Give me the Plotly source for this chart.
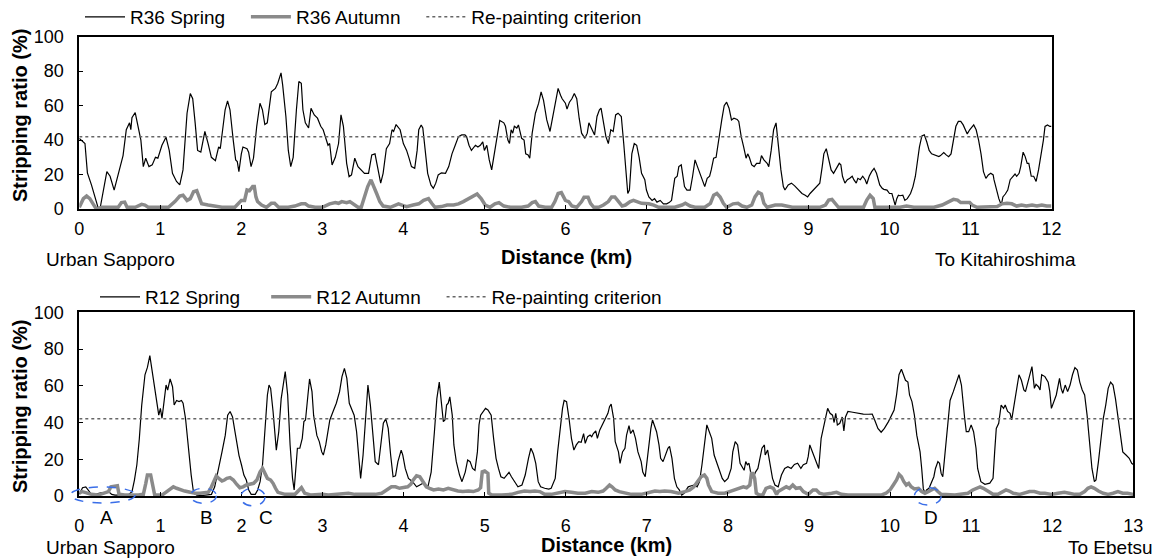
import plotly.graph_objects as go

# ---------------- data ----------------
r36_spring_km = [0.00,0.07,0.10,0.15,0.23,0.255,0.34,0.38,0.43,0.48,0.52,0.54,0.58,0.62,0.636,0.65,0.69,0.73,0.76,0.79,0.82,0.86,0.90,0.94,0.97,1.02,1.07,1.11,1.15,1.20,1.24,1.28,1.33,1.37,1.40,1.43,1.46,1.50,1.55,1.59,1.63,1.68,1.72,1.74,1.78,1.80,1.83,1.86,1.90,1.93,1.95,1.97,2.00,2.02,2.07,2.09,2.12,2.15,2.19,2.23,2.26,2.29,2.32,2.35,2.37,2.42,2.45,2.49,2.51,2.55,2.58,2.61,2.64,2.68,2.71,2.74,2.76,2.79,2.83,2.86,2.90,2.94,2.98,3.01,3.04,3.07,3.09,3.12,3.16,3.20,3.23,3.26,3.30,3.33,3.36,3.40,3.44,3.48,3.52,3.57,3.61,3.65,3.67,3.70,3.72,3.75,3.79,3.83,3.86,3.88,3.91,3.96,4.00,4.02,4.04,4.07,4.10,4.14,4.17,4.19,4.22,4.24,4.27,4.30,4.34,4.37,4.40,4.43,4.47,4.52,4.56,4.60,4.64,4.68,4.72,4.76,4.78,4.81,4.84,4.87,4.89,4.92,4.95,4.98,5.00,5.03,5.06,5.09,5.12,5.15,5.17,5.19,5.24,5.26,5.29,5.31,5.33,5.35,5.37,5.40,5.42,5.44,5.46,5.49,5.51,5.54,5.56,5.59,5.63,5.67,5.70,5.73,5.77,5.81,5.84,5.87,5.91,5.94,5.96,6.00,6.02,6.05,6.08,6.11,6.14,6.17,6.20,6.24,6.27,6.29,6.33,6.36,6.39,6.42,6.44,6.47,6.50,6.53,6.56,6.59,6.62,6.65,6.69,6.72,6.75,6.77,6.79,6.82,6.85,6.88,6.91,6.94,6.98,7.00,7.03,7.07,7.10,7.13,7.17,7.21,7.25,7.28,7.31,7.35,7.38,7.40,7.43,7.45,7.47,7.50,7.54,7.57,7.60,7.63,7.66,7.69,7.72,7.75,7.78,7.80,7.83,7.86,7.89,7.93,7.96,7.99,8.02,8.05,8.08,8.12,8.14,8.17,8.20,8.23,8.25,8.27,8.30,8.33,8.36,8.40,8.42,8.45,8.49,8.51,8.54,8.57,8.60,8.63,8.66,8.69,8.71,8.75,8.79,8.83,8.88,8.92,8.96,8.99,9.02,9.06,9.10,9.14,9.17,9.19,9.22,9.25,9.28,9.31,9.34,9.38,9.40,9.42,9.45,9.48,9.51,9.54,9.56,9.59,9.61,9.64,9.67,9.70,9.72,9.75,9.78,9.81,9.84,9.88,9.91,9.93,9.97,10.00,10.03,10.05,10.07,10.09,10.11,10.13,10.165,10.19,10.22,10.26,10.29,10.32,10.35,10.37,10.40,10.43,10.46,10.49,10.52,10.56,10.61,10.63,10.67,10.70,10.73,10.76,10.79,10.82,10.85,10.88,10.91,10.96,10.99,11.02,11.04,11.07,11.10,11.13,11.16,11.19,11.22,11.25,11.28,11.29,11.32,11.35,11.38,11.40,11.43,11.46,11.49,11.52,11.55,11.57,11.60,11.62,11.65,11.675,11.70,11.72,11.75,11.78,11.81,11.84,11.87,11.90,11.92,11.95,11.98,12.00]
r36_spring = [41,38,21,14,1,0,21.7,19,11,20,26.5,31,46,50,46,53,56,46,40,24.6,29.5,24.6,25.6,30,29.5,37,41.7,34,20.7,16,14,22.7,55.6,67,64,50,34,33,45,38,30,28,36,35,52.7,57.6,62.8,57.6,40,28.5,27.5,21.7,32,36,35,33,24.6,29.5,48,61.4,57.6,49,50,59.5,68,70,73,79,72,53.7,34,24.6,30,57.6,74,73,57.6,50,47,58.5,54.6,52.7,48,46,42,37,38,25.6,30,38,54.6,48,26.5,18.8,19.8,29.5,24.6,22.7,20.7,20.7,31.4,32,26.5,18.8,15,20.7,35,38,46,45,49,46,38,36,34,29.5,24.6,23.6,34,46,48.8,47,34,20.7,14,12,15,19.8,21,20.7,24.6,32,37,42,43,43,42,37,34,36,37,36,37,39,34,37,28.5,22.7,32,40,46,51.4,50,48,40,38,46,44,48,47,48.8,44,41,40,32,31.4,29.5,44,55.6,61.4,68,63,51.7,45,52.7,60.5,70,66,64,61.4,58,62,64,67,64,52.7,44,41,44,50,46,43,53.7,57.6,58.5,48.8,42,38,46,45,54.6,55.6,53.7,38,20.7,9,11,32,38,37,30,20.7,17,11,7,5,6,4,5,3,3,3.7,5,17.8,19,24.6,25.6,19,13,11,11,19,28.5,24.6,20.7,17,13,17.8,19,22.7,29.5,30,40,51.7,60,62,58.5,51.7,52.7,52,50.8,42,36,29.5,32,30,25.6,24.6,26.5,26.5,31,28.5,26.5,24.6,34,46,50,34,22.7,13,11,14,15,13.4,11,9,8,7,9,11,12.6,15,24.6,32,35,28.5,22.7,20.7,23.6,26.5,25.6,19,15,17,17.8,19,17,15,17.8,17,19,17,14.5,19,21.7,23.6,20.7,14,12,11.4,11,9,9,6,2.3,6,8,7.7,8,5,6,9,13,19,28.5,36,42.4,43,39,34,32,31.4,30.4,31,32.8,31.4,30.4,32,40,48,50.8,50.8,48.8,43.6,46,47.9,48.8,46,40,32,21.7,17.8,19.8,20.7,19.8,17,11,6,2.3,7,8.7,11,17,19,20.3,19,20.7,24.6,33,30.4,26.5,26.5,19,19,16,22.7,30.4,40,47.9,48.8,47.9,47.9]

r36_autumn_km = [0.00,0.05,0.09,0.13,0.17,0.21,0.28,0.48,0.52,0.56,0.59,0.69,0.77,0.81,0.85,1.02,1.10,1.18,1.24,1.28,1.33,1.37,1.41,1.45,1.48,1.51,1.59,1.68,1.76,1.92,1.96,2.00,2.04,2.07,2.10,2.14,2.16,2.18,2.20,2.25,2.31,2.37,2.41,2.46,2.58,2.66,2.74,2.79,2.83,2.91,3.00,3.05,3.09,3.16,3.20,3.24,3.30,3.34,3.38,3.44,3.48,3.52,3.56,3.60,3.63,3.67,3.71,3.75,3.84,3.92,3.94,4.00,4.04,4.12,4.19,4.25,4.31,4.35,4.39,4.47,4.54,4.62,4.68,4.74,4.80,4.87,4.91,4.96,5.01,5.07,5.13,5.18,5.24,5.32,5.46,5.54,5.59,5.63,5.67,5.75,5.83,5.87,5.91,5.95,5.98,6.00,6.04,6.08,6.14,6.20,6.23,6.28,6.31,6.35,6.41,6.47,6.53,6.57,6.61,6.65,6.70,6.74,6.80,6.84,6.88,6.94,7.03,7.09,7.15,7.23,7.35,7.44,7.48,7.54,7.60,7.72,7.79,7.83,7.87,7.91,7.95,7.99,8.07,8.13,8.18,8.24,8.30,8.34,8.38,8.42,8.45,8.49,8.59,8.67,8.75,8.80,9.00,9.14,9.21,9.25,9.29,9.33,9.37,9.68,9.72,9.76,9.80,9.82,10.05,10.13,10.21,10.30,10.55,10.65,10.71,10.75,10.79,10.84,10.88,10.93,10.99,11.02,11.08,11.33,11.39,11.45,11.51,11.57,11.63,11.69,11.76,11.82,11.88,11.94,12.00]
r36_autumn = [1,6,7.5,6,3,0,1,1,3.7,4,1,1,2.7,2.3,1,1,1,4.3,7.5,8,5,6,10,10.6,7,3,2.3,1.7,1,1,3.3,5,5,11,10.6,13,13,7,4.3,2.3,1,3.3,3.3,1,1,1.7,3,3,1.7,1,1,2.3,3,3.7,3.3,4.3,3.7,4.3,3,1,1,7,13,16.9,13,9,4.3,1.7,1,2.3,3,2,1.4,2.3,3,5,6,3.3,1,1.4,2.3,2.3,3,4.3,6,8,8.7,6,2.3,1,3,3.7,1.7,1,1,1.7,3.7,4.3,1.7,1,1,4.3,9,9.5,6,5,4.3,1.7,1,4.3,6.8,6.8,3.3,1,1,2.3,4.3,7,7,4.3,1.7,2.3,4.3,5,4.3,3.3,3,2.3,1,1,1,2.3,3.3,1.7,1,1,3.3,8,9,7,3.3,1,3,3.3,1.7,1,2.3,7,9.7,8.7,3.3,1,2.3,2.3,1.7,1,1,1,2.3,5.2,5.6,3.3,1,1,5.2,8,6,1,1,1,1.7,1,1,2.3,3.7,4.8,5.6,5.2,3.7,3.7,3.7,2.3,1,1.5,3,3.3,3,1.7,2.3,1.7,2.3,1.7,2.3,1.7,1.7]

r12_spring_km = [0.00,0.04,0.08,0.11,0.14,0.19,0.28,0.32,0.36,0.40,0.44,0.60,0.65,0.68,0.71,0.74,0.77,0.81,0.84,0.87,0.90,0.93,0.97,0.98,1.00,1.02,1.04,1.07,1.09,1.12,1.15,1.17,1.20,1.23,1.26,1.28,1.31,1.34,1.38,1.41,1.45,1.51,1.59,1.63,1.67,1.71,1.76,1.80,1.83,1.86,1.89,1.92,1.95,1.97,2.00,2.03,2.06,2.09,2.12,2.17,2.20,2.23,2.26,2.29,2.32,2.34,2.36,2.39,2.43,2.46,2.49,2.54,2.57,2.60,2.63,2.65,2.67,2.69,2.72,2.75,2.77,2.79,2.82,2.84,2.87,2.89,2.93,2.96,2.99,3.01,3.04,3.07,3.09,3.13,3.17,3.21,3.24,3.27,3.30,3.33,3.36,3.39,3.42,3.45,3.47,3.50,3.53,3.56,3.59,3.63,3.65,3.69,3.72,3.75,3.78,3.81,3.84,3.87,3.90,3.93,3.97,3.99,4.02,4.06,4.11,4.16,4.20,4.24,4.30,4.34,4.38,4.41,4.44,4.46,4.49,4.51,4.53,4.55,4.57,4.60,4.62,4.65,4.69,4.72,4.76,4.79,4.82,4.85,4.88,4.91,4.93,4.95,4.98,5.01,5.04,5.08,5.11,5.14,5.17,5.20,5.24,5.27,5.30,5.33,5.37,5.41,5.46,5.50,5.54,5.57,5.60,5.63,5.66,5.69,5.74,5.79,5.82,5.87,5.90,5.93,5.96,5.98,6.01,6.04,6.07,6.10,6.13,6.16,6.19,6.22,6.24,6.27,6.30,6.32,6.34,6.37,6.39,6.42,6.45,6.48,6.52,6.54,6.56,6.59,6.61,6.65,6.67,6.70,6.73,6.75,6.78,6.80,6.83,6.86,6.89,6.93,6.95,6.98,7.00,7.03,7.05,7.07,7.10,7.12,7.15,7.17,7.20,7.23,7.26,7.28,7.31,7.34,7.37,7.40,7.43,7.46,7.51,7.55,7.59,7.62,7.65,7.68,7.72,7.74,7.77,7.80,7.83,7.86,7.90,7.93,7.96,8.00,8.04,8.06,8.09,8.12,8.15,8.18,8.20,8.22,8.24,8.26,8.28,8.31,8.34,8.37,8.40,8.42,8.45,8.46,8.49,8.52,8.55,8.58,8.62,8.66,8.70,8.74,8.78,8.82,8.86,8.90,8.93,8.97,8.99,9.01,9.04,9.07,9.10,9.12,9.15,9.19,9.23,9.26,9.29,9.31,9.33,9.35,9.38,9.41,9.43,9.45,9.48,9.54,9.61,9.67,9.73,9.78,9.81,9.85,9.89,9.93,9.98,10.02,10.05,10.08,10.11,10.14,10.16,10.19,10.22,10.24,10.27,10.30,10.33,10.37,10.39,10.41,10.43,10.45,10.48,10.51,10.54,10.56,10.59,10.61,10.63,10.65,10.68,10.71,10.74,10.78,10.82,10.85,10.88,10.90,10.92,10.94,10.97,11.00,11.03,11.06,11.08,11.12,11.17,11.23,11.27,11.29,11.31,11.34,11.37,11.40,11.42,11.45,11.48,11.50,11.53,11.56,11.59,11.62,11.65,11.67,11.70,11.72,11.75,11.78,11.80,11.83,11.85,11.87,11.91,11.95,11.97,11.99,12.02,12.05,12.09,12.11,12.13,12.16,12.19,12.22,12.25,12.28,12.31,12.34,12.37,12.40,12.43,12.46,12.49,12.52,12.54,12.57,12.60,12.63,12.66,12.69,12.72,12.75,12.78,12.81,12.84,12.87,12.91,12.95,12.98,13.00]
r12_spring = [0.9,4.5,5,3.3,1.5,0.9,1.8,1.5,2.4,0.9,0.5,0.5,2.4,8.7,17,31,49.5,66,70,76.4,67.7,60.4,49.5,44,47.7,42.3,49.5,60.4,57.7,63.7,59.5,49.5,52,51.4,52,50.5,42.3,27.8,11.4,1.5,0.5,0.2,0.5,0.9,5,13,24,33,44,46,43,35,26,22,17,11.4,8.7,3.3,0.9,0.9,3.3,7.8,17,37,55,60.4,58.6,46,25,35,53,67.7,55,27.8,9.6,3.3,13,26,26,31.4,40.5,41.4,55,63.7,56.8,44,33,29.6,24,22.3,27.8,35,41.4,46,50.5,56.8,65,69.5,64,50.5,47.7,44,35,20.5,9.6,22.3,44,60.4,49.5,31.4,18.7,17,27.8,39.6,42,36.8,22.3,10.5,11,18.7,25,22.3,15,9.6,7.8,5,6,6.9,5,13,35,53,62,53,40.5,41.4,49.5,50.5,54,44,27.8,18.7,11.4,7.8,13,19.6,18.7,15,14,24,38.7,44,46,47.7,46.8,44,31.4,20.5,15,10.5,9.6,11.4,12.9,10.5,7.8,5,6,11.4,20.5,26,23,17.8,7.8,5,4.2,3.8,4.2,9.6,24,36.8,47.7,52,51.4,42.3,31.4,25,27.8,29.6,29.2,34,28.7,32.3,33.2,32.3,34,35.4,31.4,36,38.7,42.3,45,48.6,50,42.3,29.6,24,17.8,24,26,33.2,38.3,34,36,31.4,24,18.7,13,10.5,18.7,29.6,36.8,41.4,36.8,35,27.8,20.5,18.7,22.3,26,27,20.5,9.6,5,3.3,0.5,1.5,5,5.6,6,5,7.8,17,31.4,38.7,35,31.4,22.3,18.7,13,9.6,7.8,9.6,15,24,29.6,27.8,17.8,15,14,18.7,17,17.8,13,9.6,13,15,22.3,26,27.8,22.3,25,17.8,9.6,6,5,11.4,15,16,15,17.2,17.8,15,17,17.8,21.4,27.8,24,20.5,17,15,31.4,40.5,47.7,45,44,40,45,38.7,39.6,43,35.4,43,46,45.6,45,44.6,44.5,44.6,41.4,36.8,34.7,36.8,40.5,44,46.8,55,66,69,67,63,62,55,51.4,44,33,24,15,4,1.5,3.3,4.2,6.9,10.5,15,18.7,17.8,12.3,10.5,24,40.5,52,56.8,62,66,60.4,49.5,42.3,35,35,38.7,35,26,15,7.8,6.4,7,9.6,24,36.8,39.6,49.5,47.7,49.5,46,45,41.4,49.5,57.7,66,63,57.7,56.8,62,66,70.4,58.6,60.8,59.5,57.7,66,65,62,56.8,47.7,52,55,64,58.6,55.9,60.4,56.8,60.4,66,69.9,68.6,62,57.7,55,44,27.8,15,7.8,8.7,18.7,31.4,42.3,49.5,58.6,62,60.4,53,42.3,31.4,24,22.3,20.5,17.8,17.2]

r12_autumn_km = [0.00,0.03,0.07,0.15,0.23,0.31,0.36,0.39,0.44,0.47,0.49,0.56,0.73,0.79,0.82,0.84,0.88,0.91,0.93,1.02,1.08,1.12,1.16,1.20,1.25,1.30,1.37,1.43,1.49,1.55,1.59,1.63,1.67,1.69,1.72,1.76,1.79,1.82,1.86,1.90,1.94,1.98,2.02,2.06,2.10,2.15,2.19,2.23,2.26,2.29,2.32,2.36,2.39,2.42,2.45,2.54,2.66,2.74,2.78,2.86,3.00,3.07,3.24,3.32,3.40,3.48,3.56,3.65,3.73,3.79,3.85,3.90,3.95,4.05,4.09,4.11,4.16,4.20,4.24,4.28,4.32,4.37,4.43,4.49,4.55,4.61,4.67,4.73,4.80,4.86,4.92,4.95,4.97,5.00,5.04,5.05,5.09,5.21,5.33,5.41,5.49,5.56,5.62,5.68,5.74,5.82,5.91,5.99,6.07,6.15,6.24,6.32,6.40,6.46,6.50,6.54,6.57,6.61,6.66,6.73,6.81,6.93,7.02,7.10,7.16,7.22,7.30,7.39,7.47,7.53,7.58,7.63,7.67,7.71,7.74,7.76,7.80,7.88,7.96,8.02,8.09,8.15,8.19,8.23,8.27,8.29,8.31,8.33,8.35,8.39,8.43,8.47,8.52,8.56,8.60,8.62,8.66,8.72,8.76,8.80,8.84,8.89,8.93,8.99,9.05,9.09,9.13,9.19,9.28,9.34,9.40,9.48,9.65,9.89,9.95,10.00,10.04,10.08,10.11,10.14,10.17,10.20,10.23,10.26,10.30,10.35,10.39,10.43,10.47,10.51,10.55,10.59,10.63,10.80,10.96,11.02,11.07,11.11,11.15,11.21,11.27,11.33,11.39,11.43,11.47,11.52,11.60,11.66,11.72,11.78,11.85,11.91,11.99,12.07,12.15,12.21,12.28,12.34,12.40,12.44,12.48,12.52,12.57,12.63,12.69,12.75,12.81,12.87,12.93,13.00]
r12_autumn = [1.5,2.4,2,0.9,0.5,1.5,2.4,5,5.6,5.6,0.9,0.5,0.5,0.9,6.9,11.4,11.4,6,0.5,0.5,2.4,4.2,5,4.2,3.3,2.7,2,1.5,1.5,2,2,5,9.6,11,9.6,8.2,8.7,9.6,10,8.7,6.4,4.5,5,6,6.4,6.9,8.7,13.2,15,12.3,9.6,8.7,6.9,4.2,2,0.9,0.9,4.5,1.5,0.5,0.9,0.5,0.9,1.5,0.9,0.9,0.5,0.9,1.5,3.3,5,5,4.2,5,6.4,8.2,11,10.5,7.8,5,4.2,3.3,3.8,3.3,4.2,3.3,2.7,2.4,2.7,2.4,3.3,4.5,13.2,13.6,12.3,1.5,0.5,0.5,0.9,2,2.7,2.4,2.7,2.4,0.9,0.9,1.5,2.4,2,1.5,1.5,2.4,2,2.7,4.2,6,5,3.3,2.4,1.5,0.9,0.9,2,2.7,2.4,2.7,2.4,1.5,2.4,3.3,5,7.8,10.5,11.4,9.6,6,2.4,1.5,1.5,2.4,3.3,4.2,5,4.5,6,12.3,12.3,9.6,1.5,0.5,0.5,4.2,5,4.2,0.9,2.4,3.3,5,4.2,6,4.2,4.5,2.4,0.9,3.3,3.3,1.5,0.9,1.5,2,0.9,0.5,0.5,0.5,1.5,3.3,6,8.7,11.8,10.5,7.8,6,6.9,5,3.8,4.2,2.4,1.5,2.4,3.3,4.2,2.4,0.9,0.5,1.5,3.3,4.5,5,4.2,2.4,0.9,0.9,2.4,3.3,2.7,1.5,0.9,1.5,2.4,2.4,1.5,1.5,0.9,1.5,2,1.5,0.9,0.9,2.4,4.2,5,4.2,2.7,1.5,0.9,1.5,2.4,1.5,1.5,0.9]

criterion = 42
r36_range = [0, 12]
r12_range = [0, 13]
tick_km = list(range(0, 14))
tick_pct = [0, 20, 40, 60, 80, 100]
site_labels = ["A", "B", "C", "D"]
site_km = [0.34, 1.57, 2.30, 10.50]

# ---------------- layout constants ----------------
W, H = 1160, 559
FONT = "Arial, Liberation Sans, sans-serif"
X1 = [79.3 / W, 1051.5 / W]
X2 = [79.3 / W, 1133.3 / W]
Y1 = [1 - 209 / H, 1 - 36.7 / H]
Y2 = [1 - 496 / H, 1 - 312.3 / H]
NB = "\u00a0"

spring_line = dict(color="black", width=1.2)
autumn_line = dict(color="#8a8a8a", width=3.5)
crit_line = dict(color="#666666", width=1.5, dash="3px,3px")

fig = go.Figure()
fig.add_trace(go.Scatter(x=r36_spring_km, y=r36_spring, mode="lines", name="R36 Spring" + NB * 3,
                         line=spring_line, xaxis="x", yaxis="y", legend="legend"))
fig.add_trace(go.Scatter(x=r36_autumn_km, y=r36_autumn, mode="lines", name="R36 Autumn" + NB * 3,
                         line=autumn_line, xaxis="x", yaxis="y", legend="legend"))
fig.add_trace(go.Scatter(x=r36_range, y=[criterion, criterion], mode="lines", name="Re-painting criterion",
                         line=crit_line, xaxis="x", yaxis="y", legend="legend"))
fig.add_trace(go.Scatter(x=r12_spring_km, y=r12_spring, mode="lines", name="R12 Spring" + NB * 4,
                         line=spring_line, xaxis="x2", yaxis="y2", legend="legend2"))
fig.add_trace(go.Scatter(x=r12_autumn_km, y=r12_autumn, mode="lines", name="R12 Autumn" + NB * 3,
                         line=autumn_line, xaxis="x2", yaxis="y2", legend="legend2"))
fig.add_trace(go.Scatter(x=r12_range, y=[criterion, criterion], mode="lines", name="Re-painting criterion",
                         line=crit_line, xaxis="x2", yaxis="y2", legend="legend2"))

axis_common = dict(showline=True, linecolor="black", linewidth=2, mirror=True, showgrid=False,
                   zeroline=False, ticks="inside", ticklen=4, tickcolor="black", tickwidth=1,
                   automargin=False, tickfont=dict(family=FONT, size=18, color="black"))

def xpaper(km, dom, rng):
    return dom[0] + (km - rng[0]) / (rng[1] - rng[0]) * (dom[1] - dom[0])

def ypaper(v, dom):
    return dom[0] + v / 100.0 * (dom[1] - dom[0])

legend_common = dict(orientation="h", xanchor="left", yanchor="middle", bgcolor="rgba(0,0,0,0)",
                     font=dict(family=FONT, size=19, color="black"), itemwidth=40,
                     tracegroupgap=0)

annotations = []
def txt(text, x, y, bold=False, angle=0, xanchor="center", size=19):
    annotations.append(dict(text=("<b>%s</b>" % text) if bold else text, x=x / W, y=1 - y / H,
                            xref="paper", yref="paper", showarrow=False, textangle=angle,
                            xanchor=xanchor, yanchor="middle",
                            font=dict(family=FONT, size=size, color="black")))

txt("Stripping ratio" + NB + "(%)", 20, 116, bold=True, angle=-90, size=20)
txt("Stripping ratio" + NB + "(%)", 20, 407, bold=True, angle=-90, size=20)
txt("Distance" + NB + "(km)", 566, 257, bold=True, size=20)
txt("Distance" + NB + "(km)", 606, 545, bold=True, size=20)
txt("Urban Sapporo", 44, 259, xanchor="left")
txt("Urban Sapporo", 44, 547, xanchor="left")
txt("To Kitahiroshima", 1005, 260)
txt("To Ebetsu", 1110, 547)
for lab, km in zip(site_labels, site_km):
    annotations.append(dict(text=lab, x=xpaper(km, X2, r12_range), y=1 - 517 / H, xref="paper", yref="paper",
                            showarrow=False, xanchor="center", yanchor="middle",
                            font=dict(family=FONT, size=19, color="black")))

ellipses = [(-0.11, 0.69, -3.8, 4.9), (1.37, 1.69, -4.0, 4.2), (1.99, 2.29, -5.4, 4.2), (10.30, 10.63, -4.9, 4.7)]
shapes = []
for k0, k1, v0, v1 in ellipses:
    shapes.append(dict(type="circle", xref="paper", yref="paper",
                       x0=xpaper(k0, X2, r12_range), x1=xpaper(k1, X2, r12_range),
                       y0=ypaper(v0, Y2), y1=ypaper(v1, Y2),
                       line=dict(color="#3a6ee8", width=1.5, dash="dash")))

fig.update_layout(
    width=W, height=H, margin=dict(l=0, r=0, t=0, b=0, autoexpand=False),
    plot_bgcolor="white", paper_bgcolor="white",
    font=dict(family=FONT, size=18, color="black"),
    xaxis=dict(domain=X1, range=r36_range, tickvals=tick_km[:13], anchor="y", ticklabelstandoff=2, **axis_common),
    yaxis=dict(domain=Y1, range=[0, 100], tickvals=tick_pct, anchor="x", ticklabelstandoff=10, **axis_common),
    xaxis2=dict(domain=X2, range=r12_range, tickvals=tick_km, anchor="y2", ticklabelstandoff=12, **axis_common),
    yaxis2=dict(domain=Y2, range=[0, 100], tickvals=tick_pct, anchor="x2", ticklabelstandoff=10, **axis_common),
    legend=dict(x=80 / W, y=1 - 17 / H, **legend_common),
    legend2=dict(x=95 / W, y=1 - 297 / H, **legend_common),
    annotations=annotations, shapes=shapes, showlegend=True,
)

fig.write_html("out.html")
